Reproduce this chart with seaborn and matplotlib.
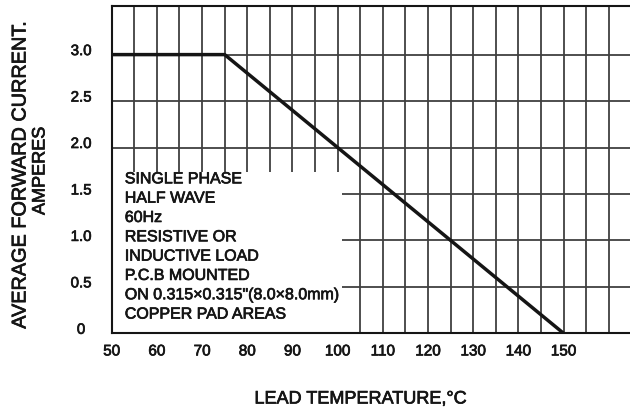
import numpy as np
import pandas as pd
import seaborn as sns
import matplotlib.pyplot as plt
import matplotlib.patheffects as pe
from matplotlib.patches import Rectangle
from matplotlib.transforms import ScaledTranslation

### derating curve values
lead_temp = [50, 75, 150]
forward_current = [3.0, 3.0, 0.0]

x_ticks = [50, 60, 70, 80, 90, 100, 110, 120, 130, 140, 150]
y_ticks = [0, 0.5, 1.0, 1.5, 2.0, 2.5, 3.0]
y_tick_labels = ["0", "0.5", "1.0", "1.5", "2.0", "2.5", "3.0"]

note_lines = [
    "SINGLE PHASE",
    "HALF WAVE",
    "60Hz",
    "RESISTIVE OR",
    "INDUCTIVE LOAD",
    "P.C.B MOUNTED",
    "ON 0.315\u00d70.315\"(8.0\u00d78.0mm)",
    "COPPER PAD AREAS",
]

df = pd.DataFrame({"temp": lead_temp, "current": forward_current})

sns.set_style("white")
plt.rcParams["font.family"] = ["Liberation Sans", "DejaVu Sans"]

ink = "#151515"
grid_c = "#404040"
heavy = [pe.withStroke(linewidth=0.5, foreground=ink)]   # scanned text looks a bit heavier

fig = plt.figure(figsize=(6.3, 4.14), dpi=100)
ax = fig.add_axes([111.7 / 630, (414 - 334.3) / 414, (630 - 111.7) / 630, (334.3 - 7.3) / 414])

ax.set_xlim(50, 164.7)
ax.set_ylim(0, 3.52)

### grid drawn by hand so the note box can sit between grid and ticks
ax.vlines(np.arange(55, 165, 5), 0, 3.52, colors=grid_c, lw=1.3, zorder=1)
ax.hlines(np.arange(0.5, 3.5, 0.5), 50, 164.7, colors=grid_c, lw=1.3, zorder=1)

ax.add_patch(Rectangle((50, 0), 51, 1.74, facecolor="white", edgecolor="none", zorder=1.6))

sns.lineplot(data=df, x="temp", y="current", color=ink, lw=2.5, ax=ax, zorder=3)

y0 = 1.663
step = 0.208
for i, line in enumerate(note_lines):
    ax.text(52.9, y0 - i * step, line, fontsize=11.5, color=ink, va="center", ha="left",
            zorder=4, path_effects=heavy)

ax.set_axisbelow(False)
ax.set_xticks(x_ticks)
ax.set_xticks(np.arange(55, 150, 10), minor=True)
ax.set_xticklabels([str(v) for v in x_ticks], fontsize=11, color=ink)
ax.set_yticks(y_ticks)
ax.set_yticklabels(y_tick_labels, fontsize=10.8, color=ink)
ax.tick_params(axis="x", which="both", direction="in", length=3, width=1.2, color=ink, pad=8)
ax.tick_params(axis="y", direction="in", length=3, width=1.2, color=ink, pad=22)
for lab in ax.get_yticklabels():
    lab.set_horizontalalignment("center")
    lab.set_transform(lab.get_transform() + ScaledTranslation(0, 5 / 100, fig.dpi_scale_trans))
    lab.set_path_effects(heavy)
for lab in ax.get_xticklabels():
    lab.set_path_effects(heavy)

ax.set_xlabel("")
ax.set_ylabel("")
for side in ["left", "bottom", "top"]:
    ax.spines[side].set_color(ink)
    ax.spines[side].set_linewidth(1.5)
ax.spines["right"].set_visible(False)

fig.text(20 / 630, 1 - 176 / 414, "AVERAGE FORWARD CURRENT.", rotation=90, fontsize=14.3,
         color=ink, ha="center", va="center", path_effects=heavy)
fig.text(40 / 630, 1 - 172 / 414, "AMPERES", rotation=90, fontsize=13,
         color=ink, ha="center", va="center", path_effects=heavy)
fig.text(360 / 630, 14 / 414, "LEAD TEMPERATURE,\u00b0C", fontsize=13, color=ink,
         ha="center", va="center", path_effects=heavy)

fig.savefig("out.png", dpi=100)
